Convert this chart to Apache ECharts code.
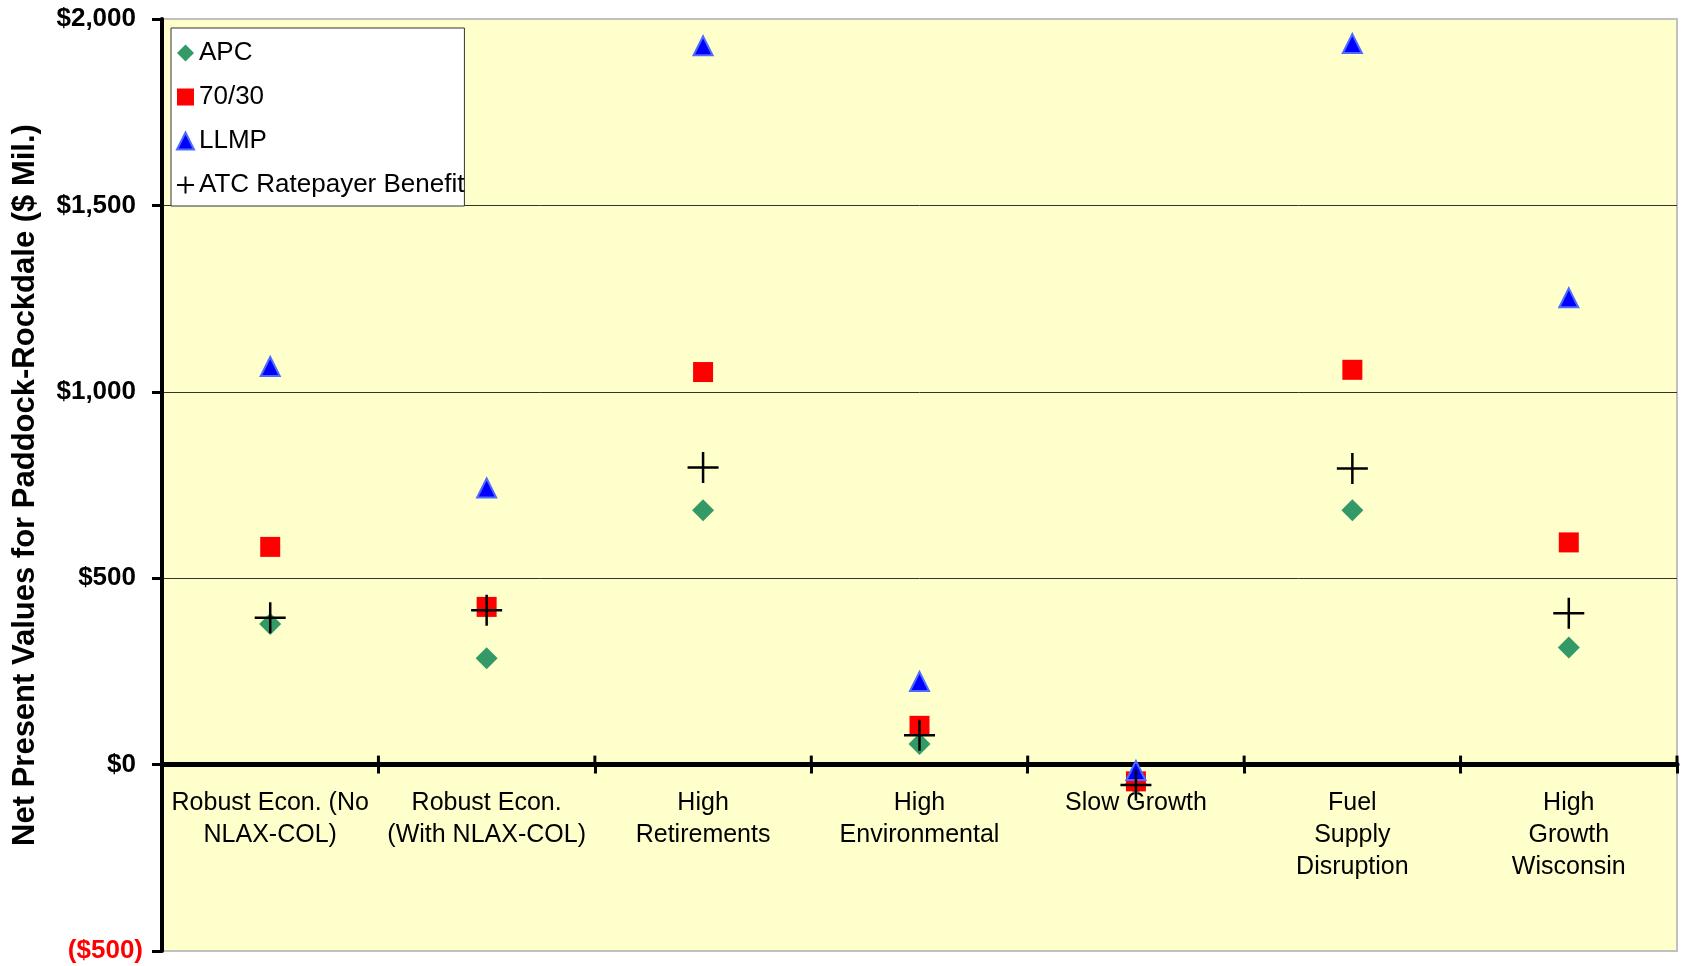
<!DOCTYPE html>
<html>
<head>
<meta charset="utf-8">
<script src="https://cdn.jsdelivr.net/npm/echarts@6/dist/echarts.min.js"></script>
<style>
html,body{margin:0;padding:0;background:#fff;}
#chart{width:1681px;height:966px;}
</style>
</head>
<body>
<div id="chart"></div>
<script>
var categories = [
  'Robust Econ. (No\nNLAX-COL)',
  'Robust Econ.\n(With NLAX-COL)',
  'High\nRetirements',
  'High\nEnvironmental',
  'Slow Growth',
  'Fuel\nSupply\nDisruption',
  'High\nGrowth\nWisconsin'
];
var apc       = [377, 285, 682, 55, -52, 682, 314];
var split7030 = [584, 423, 1053, 104, -45, 1059, 596];
var llmp      = [1068, 742, 1928, 223, -16, 1934, 1252];
var atc       = [394, 414, 797, 79, -55, 794, 406];

var yTickValues = [-500, 0, 500, 1000, 1500, 2000];
var yTickLabels = ['($500)', '$0', '$500', '$1,000', '$1,500', '$2,000'];

var FONT = '"Liberation Sans", Arial, sans-serif';
var PLUS = 'path://M10,0 L10,20 M0,10 L20,10';

var axisDecor = categories.map(function (c, i) { return [i, 0]; });

var chart = echarts.init(document.getElementById('chart'), null, {renderer: 'canvas'});
chart.setOption({
  animation: false,
  backgroundColor: '#ffffff',
  grid: {
    left: 162, right: 4, top: 19, bottom: 15,
    outerBoundsMode: 'none', containLabel: false,
    show: true, backgroundColor: '#FFFFCC',
    borderColor: '#c0c0c0', borderWidth: 2
  },
  legend: {
    orient: 'vertical',
    left: 171, top: 28,
    backgroundColor: '#ffffff',
    borderColor: '#333333', borderWidth: 1,
    padding: [12, 0, 8, 5],
    itemWidth: 17, itemHeight: 17, itemGap: 18,
    textStyle: {fontFamily: FONT, fontSize: 26, color: '#000', lineHeight: 26},
    data: ['APC', '70/30', 'LLMP', 'ATC Ratepayer Benefit']
  },
  xAxis: {
    type: 'category', data: categories, position: 'bottom',
    axisLine: {onZero: true, lineStyle: {color: '#000', width: 5}},
    axisTick: {show: true, interval: 0, length: 9, lineStyle: {color: '#000', width: 3}},
    axisLabel: {show: false},
    splitLine: {show: false}
  },
  yAxis: {
    type: 'value', min: -500, max: 2000, interval: 500,
    name: 'Net Present Values for Paddock-Rockdale ($ Mil.)',
    nameLocation: 'middle', nameRotate: 90, nameGap: 121,
    nameTextStyle: {fontFamily: FONT, fontSize: 31, fontWeight: 'bold', color: '#000'},
    axisLine: {show: true, onZero: false, lineStyle: {color: '#000', width: 4}},
    axisTick: {show: true, length: 10, lineStyle: {color: '#000', width: 3}},
    axisLabel: {
      margin: 19,
      formatter: function (v) {
        var i = yTickValues.indexOf(v);
        var t = i >= 0 ? yTickLabels[i] : '';
        return v < 0 ? '{neg|' + t + '}' : '{pos|' + t + '}';
      },
      rich: {
        neg: {fontFamily: FONT, fontSize: 26, fontWeight: 'bold', color: '#FF0000'},
        pos: {fontFamily: FONT, fontSize: 26, fontWeight: 'bold', color: '#000000', padding: [0, 7, 0, 0]}
      }
    },
    splitLine: {show: true, lineStyle: {color: ['transparent', 'transparent', '#333', '#333', '#333', 'transparent'], width: 1}}
  },
  series: [
    {name: 'APC', type: 'scatter', data: apc, symbol: 'diamond', symbolSize: 22,
     itemStyle: {color: '#339966', opacity: 1}},
    {name: '70/30', type: 'scatter', data: split7030, symbol: 'rect', symbolSize: 20,
     itemStyle: {color: '#FF0000', opacity: 1}},
    {name: 'LLMP', type: 'scatter', data: llmp, symbol: 'triangle', symbolSize: 19,
     itemStyle: {color: '#0000FF', borderColor: '#4d6bff', borderWidth: 2, opacity: 1}},
    {name: 'ATC Ratepayer Benefit', type: 'scatter', data: atc, symbol: PLUS, symbolSize: 31,
     itemStyle: {color: '#000', borderColor: '#000', borderWidth: 2.5, opacity: 1}},
    {
      name: 'axisDecor', type: 'custom', data: axisDecor, silent: true, z: 1,
      renderItem: function (params, api) {
        var i = api.value(0);
        var p = api.coord([i, 0]);
        var w = api.size([1, 0])[0];
        var children = [];
        var xl = p[0] - w / 2;
        children.push({type: 'line', shape: {x1: xl, y1: p[1], x2: xl, y2: p[1] - 9},
          style: {stroke: '#000', lineWidth: 3}});
        if (i === categories.length - 1) {
          var xr = p[0] + w / 2;
          children.push({type: 'line', shape: {x1: xr, y1: p[1], x2: xr, y2: p[1] - 9},
            style: {stroke: '#000', lineWidth: 3}});
        }
        children.push({type: 'text', style: {
          text: categories[i], x: p[0], y: p[1] + 23,
          align: 'center', verticalAlign: 'top',
          fontFamily: FONT, fontSize: 25, lineHeight: 32, fill: '#000'
        }});
        return {type: 'group', children: children};
      }
    }
  ]
});
</script>
</body>
</html>
